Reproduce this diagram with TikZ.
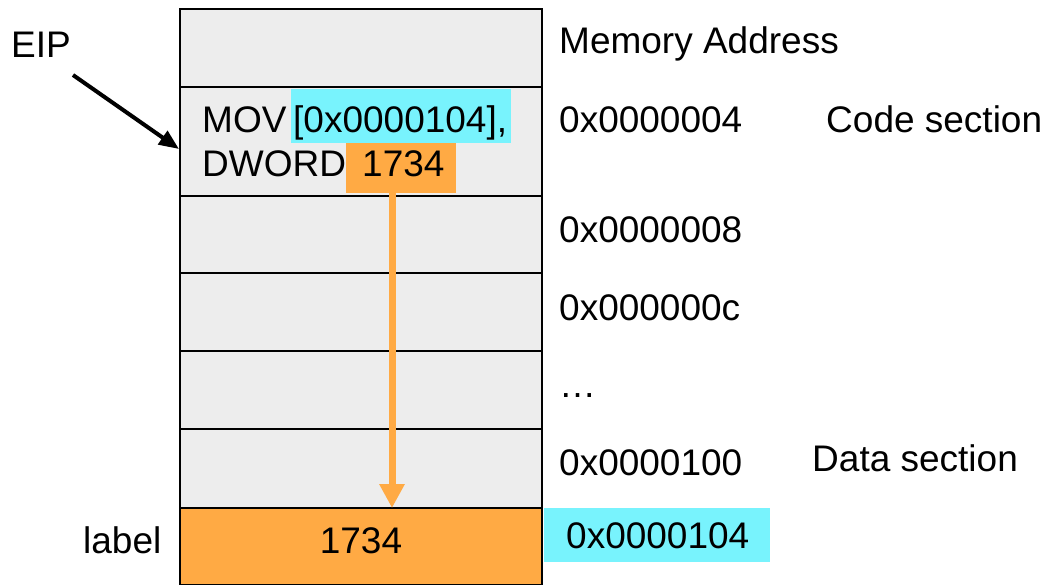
\documentclass[tikz,border=0pt]{standalone}
\usepackage{fontspec}
\setmainfont{Liberation Sans}
\usetikzlibrary{arrows.meta}
\definecolor{cellgray}{RGB}{237,237,237}
\definecolor{memorange}{RGB}{255,170,68}
\definecolor{addrcyan}{RGB}{120,243,253}
\tikzset{
  cell/.style={draw=black, line width=2.8pt, fill=cellgray, minimum width=362pt, inner sep=0pt},
  txt/.style={anchor=base west, inner sep=0pt, font=\fontsize{37}{44}\selectfont},
  ctxt/.style={anchor=base, inner sep=0pt, font=\fontsize{37}{44}\selectfont},
  hl/.style={inner sep=0pt, anchor=north west},
}
\begin{document}
\begin{tikzpicture}[x=1pt,y=-1pt]
\useasboundingbox (0,0) rectangle (1048,585);
% memory column
\node[cell, minimum height=78pt]  (r0) at (361,48)    {};
\node[cell, minimum height=109pt] (r1) at (361,141.5) {};
\node[cell, minimum height=77pt]  (r2) at (361,234.5) {};
\node[cell, minimum height=78pt]  (r3) at (361,312)   {};
\node[cell, minimum height=78pt]  (r4) at (361,390)   {};
\node[cell, minimum height=79pt]  (r5) at (361,468.5) {};
\node[cell, minimum height=77pt, fill=memorange] (r6) at (361,546.5) {};
% highlighted operands of the instruction
\node[hl, fill=addrcyan, minimum width=220pt, minimum height=54pt] (opaddr) at (291,89) {};
\node[hl, fill=memorange, minimum width=110pt, minimum height=50pt] (opval) at (346,143) {};
% instruction text
\node[txt] (mov) at (202,133) {MOV};
\node[txt] (movaddr) at (293,133) {[0x0000104],};
\node[txt] (dword) at (202,177) {DWORD};
\node[txt] (dval) at (362,177) {1734};
\node[ctxt] (val) at (361,553) {1734};
% left labels
\node[txt] (eip) at (11,58) {EIP};
\node[txt] (lbl) at (83,553) {label};
\coordinate (eiptail) at (73,75);
\coordinate (eiptip) at (179,149);
\draw[line width=4pt, -{Triangle[width=16pt,length=20pt]}] (eiptail) -- (eiptip);
% data transfer arrow
\draw[memorange, line width=7pt, -{Triangle[width=24pt,length=24pt]}] (opval.south -| 392,0) -- (392,508);
% address column
\node[txt] (hdr) at (559,54) {Memory Address};
\node[txt] (a4) at (559,133) {0x0000004};
\node[txt] (a8) at (559,242) {0x0000008};
\node[txt] (ac) at (559,320) {0x000000c};
\node[txt] (dots) at (559,397) {\ldots};
\node[hl, fill=addrcyan, minimum width=226pt, minimum height=54pt] (a104box) at (544,508) {};
\node[txt] (a100) at (559,475) {0x0000100};
\node[txt] (a104) at (566,548) {0x0000104};
% section labels
\node[txt] (code) at (826,133) {Code section};
\node[txt] (data) at (812,471) {Data section};
\end{tikzpicture}
\end{document}
